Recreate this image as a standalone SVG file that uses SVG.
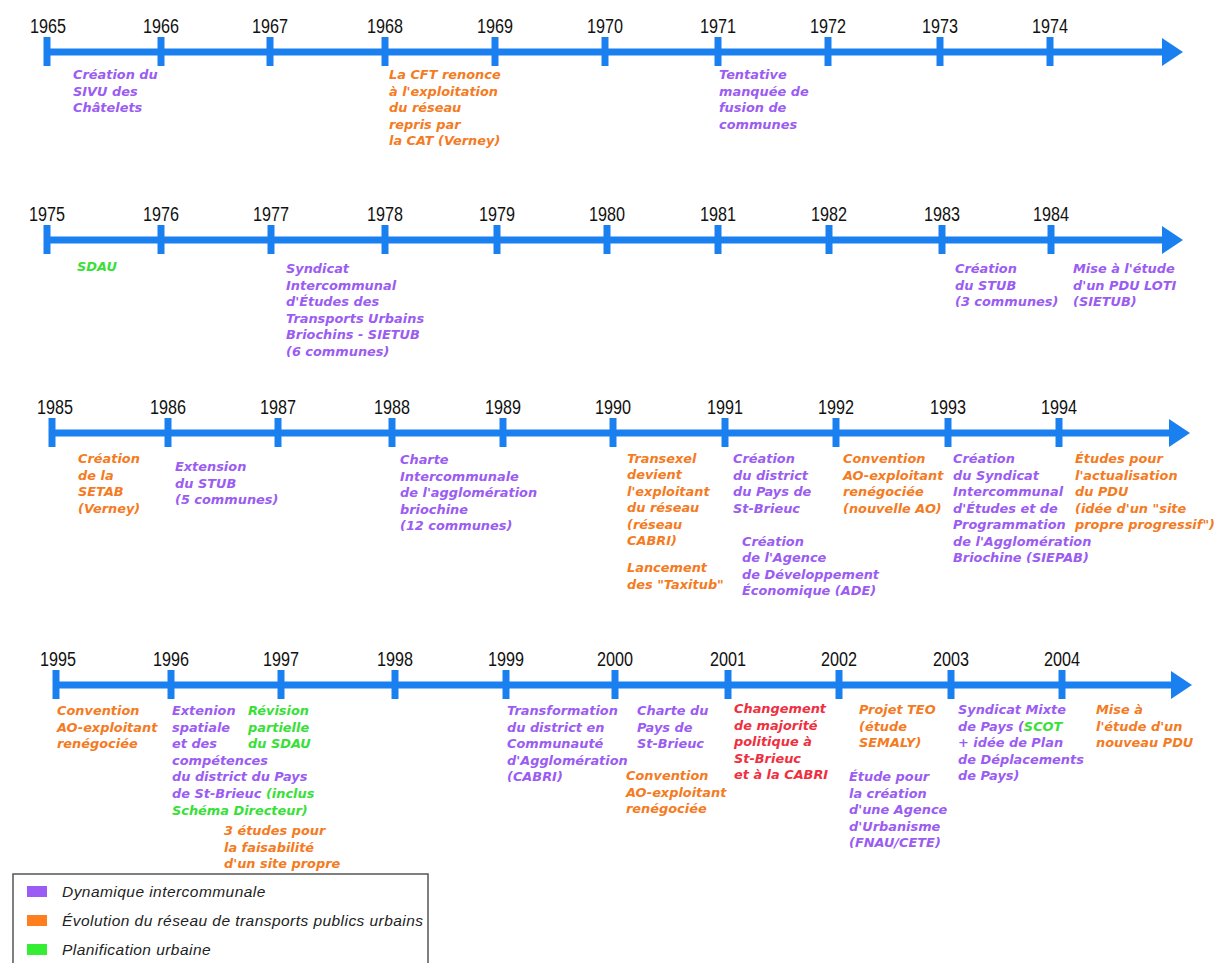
<svg xmlns="http://www.w3.org/2000/svg" width="1220" height="963" viewBox="0 0 1220 963">
<style>
.ax{stroke:#1a80f0;stroke-width:7;fill:none}
.tk{stroke:#1a80f0;stroke-width:7}
.ah{fill:#1a80f0}
.yr{font-family:"Liberation Sans",Arial,sans-serif;font-size:20px;fill:#111;text-anchor:middle}
.t{font-family:"DejaVu Sans",Verdana,sans-serif;font-size:12.9px;font-weight:bold;font-style:italic}
.p{fill:#9b5cf2}
.o{fill:#f47b1f}
.g{fill:#38e038}
.r{fill:#ee3040}
.lg{font-family:"Liberation Sans",Arial,sans-serif;font-size:15.5px;font-style:italic;fill:#222;letter-spacing:0.45px}
</style>
<rect width="1220" height="963" fill="#fff"/>
<g id="connectors">
<g id="axis1965">
<line class="ax" x1="47" y1="52" x2="1165" y2="52"/><polygon class="ah" points="1162,38 1183,52 1162,66"/>
<line class="tk" x1="47" y1="37" x2="47" y2="66"/><line class="tk" x1="161" y1="37" x2="161" y2="66"/><line class="tk" x1="270" y1="37" x2="270" y2="66"/><line class="tk" x1="385" y1="37" x2="385" y2="66"/><line class="tk" x1="495" y1="37" x2="495" y2="66"/><line class="tk" x1="605" y1="37" x2="605" y2="66"/><line class="tk" x1="718" y1="37" x2="718" y2="66"/><line class="tk" x1="828" y1="37" x2="828" y2="66"/><line class="tk" x1="940" y1="37" x2="940" y2="66"/><line class="tk" x1="1050" y1="37" x2="1050" y2="66"/>
</g>
<g id="axis1975">
<line class="ax" x1="47" y1="240" x2="1165" y2="240"/><polygon class="ah" points="1162,226 1183,240 1162,254"/>
<line class="tk" x1="47" y1="225" x2="47" y2="254"/><line class="tk" x1="161" y1="225" x2="161" y2="254"/><line class="tk" x1="271" y1="225" x2="271" y2="254"/><line class="tk" x1="385" y1="225" x2="385" y2="254"/><line class="tk" x1="497" y1="225" x2="497" y2="254"/><line class="tk" x1="607" y1="225" x2="607" y2="254"/><line class="tk" x1="718" y1="225" x2="718" y2="254"/><line class="tk" x1="829" y1="225" x2="829" y2="254"/><line class="tk" x1="942" y1="225" x2="942" y2="254"/><line class="tk" x1="1051" y1="225" x2="1051" y2="254"/>
</g>
<g id="axis1985">
<line class="ax" x1="52" y1="433" x2="1172" y2="433"/><polygon class="ah" points="1169,419 1190,433 1169,447"/>
<line class="tk" x1="52" y1="418" x2="52" y2="447"/><line class="tk" x1="168" y1="418" x2="168" y2="447"/><line class="tk" x1="278" y1="418" x2="278" y2="447"/><line class="tk" x1="392" y1="418" x2="392" y2="447"/><line class="tk" x1="503" y1="418" x2="503" y2="447"/><line class="tk" x1="613" y1="418" x2="613" y2="447"/><line class="tk" x1="725" y1="418" x2="725" y2="447"/><line class="tk" x1="836" y1="418" x2="836" y2="447"/><line class="tk" x1="948" y1="418" x2="948" y2="447"/><line class="tk" x1="1059" y1="418" x2="1059" y2="447"/>
</g>
<g id="axis1995">
<line class="ax" x1="56" y1="685" x2="1174" y2="685"/><polygon class="ah" points="1171,671 1192,685 1171,699"/>
<line class="tk" x1="56" y1="670" x2="56" y2="699"/><line class="tk" x1="171" y1="670" x2="171" y2="699"/><line class="tk" x1="281" y1="670" x2="281" y2="699"/><line class="tk" x1="395" y1="670" x2="395" y2="699"/><line class="tk" x1="506" y1="670" x2="506" y2="699"/><line class="tk" x1="615" y1="670" x2="615" y2="699"/><line class="tk" x1="728" y1="670" x2="728" y2="699"/><line class="tk" x1="839" y1="670" x2="839" y2="699"/><line class="tk" x1="951" y1="670" x2="951" y2="699"/><line class="tk" x1="1062" y1="670" x2="1062" y2="699"/>
</g>
</g>
<g id="years">
<text class="yr" x="48" y="33" textLength="36" lengthAdjust="spacingAndGlyphs">1965</text>
<text class="yr" x="161" y="33" textLength="36" lengthAdjust="spacingAndGlyphs">1966</text>
<text class="yr" x="270" y="33" textLength="36" lengthAdjust="spacingAndGlyphs">1967</text>
<text class="yr" x="385" y="33" textLength="36" lengthAdjust="spacingAndGlyphs">1968</text>
<text class="yr" x="495" y="33" textLength="36" lengthAdjust="spacingAndGlyphs">1969</text>
<text class="yr" x="605" y="33" textLength="36" lengthAdjust="spacingAndGlyphs">1970</text>
<text class="yr" x="718" y="33" textLength="36" lengthAdjust="spacingAndGlyphs">1971</text>
<text class="yr" x="828" y="33" textLength="36" lengthAdjust="spacingAndGlyphs">1972</text>
<text class="yr" x="940" y="33" textLength="36" lengthAdjust="spacingAndGlyphs">1973</text>
<text class="yr" x="1050" y="33" textLength="36" lengthAdjust="spacingAndGlyphs">1974</text>
<text class="yr" x="47" y="221" textLength="36" lengthAdjust="spacingAndGlyphs">1975</text>
<text class="yr" x="161" y="221" textLength="36" lengthAdjust="spacingAndGlyphs">1976</text>
<text class="yr" x="271" y="221" textLength="36" lengthAdjust="spacingAndGlyphs">1977</text>
<text class="yr" x="385" y="221" textLength="36" lengthAdjust="spacingAndGlyphs">1978</text>
<text class="yr" x="497" y="221" textLength="36" lengthAdjust="spacingAndGlyphs">1979</text>
<text class="yr" x="607" y="221" textLength="36" lengthAdjust="spacingAndGlyphs">1980</text>
<text class="yr" x="718" y="221" textLength="36" lengthAdjust="spacingAndGlyphs">1981</text>
<text class="yr" x="829" y="221" textLength="36" lengthAdjust="spacingAndGlyphs">1982</text>
<text class="yr" x="942" y="221" textLength="36" lengthAdjust="spacingAndGlyphs">1983</text>
<text class="yr" x="1051" y="221" textLength="36" lengthAdjust="spacingAndGlyphs">1984</text>
<text class="yr" x="55" y="414" textLength="36" lengthAdjust="spacingAndGlyphs">1985</text>
<text class="yr" x="168" y="414" textLength="36" lengthAdjust="spacingAndGlyphs">1986</text>
<text class="yr" x="278" y="414" textLength="36" lengthAdjust="spacingAndGlyphs">1987</text>
<text class="yr" x="392" y="414" textLength="36" lengthAdjust="spacingAndGlyphs">1988</text>
<text class="yr" x="503" y="414" textLength="36" lengthAdjust="spacingAndGlyphs">1989</text>
<text class="yr" x="613" y="414" textLength="36" lengthAdjust="spacingAndGlyphs">1990</text>
<text class="yr" x="725" y="414" textLength="36" lengthAdjust="spacingAndGlyphs">1991</text>
<text class="yr" x="836" y="414" textLength="36" lengthAdjust="spacingAndGlyphs">1992</text>
<text class="yr" x="948" y="414" textLength="36" lengthAdjust="spacingAndGlyphs">1993</text>
<text class="yr" x="1059" y="414" textLength="36" lengthAdjust="spacingAndGlyphs">1994</text>
<text class="yr" x="58" y="666" textLength="36" lengthAdjust="spacingAndGlyphs">1995</text>
<text class="yr" x="171" y="666" textLength="36" lengthAdjust="spacingAndGlyphs">1996</text>
<text class="yr" x="281" y="666" textLength="36" lengthAdjust="spacingAndGlyphs">1997</text>
<text class="yr" x="395" y="666" textLength="36" lengthAdjust="spacingAndGlyphs">1998</text>
<text class="yr" x="506" y="666" textLength="36" lengthAdjust="spacingAndGlyphs">1999</text>
<text class="yr" x="615" y="666" textLength="36" lengthAdjust="spacingAndGlyphs">2000</text>
<text class="yr" x="728" y="666" textLength="36" lengthAdjust="spacingAndGlyphs">2001</text>
<text class="yr" x="839" y="666" textLength="36" lengthAdjust="spacingAndGlyphs">2002</text>
<text class="yr" x="951" y="666" textLength="36" lengthAdjust="spacingAndGlyphs">2003</text>
<text class="yr" x="1062" y="666" textLength="36" lengthAdjust="spacingAndGlyphs">2004</text>
</g>
<g id="ev1966"><text class="t p" y="79"><tspan x="73">Création du</tspan><tspan x="73" dy="16.5">SIVU des</tspan><tspan x="73" dy="16.5">Châtelets</tspan></text></g>
<g id="ev1968"><text class="t o" y="79"><tspan x="389">La CFT renonce</tspan><tspan x="389" dy="16.5">à l'exploitation</tspan><tspan x="389" dy="16.5">du réseau</tspan><tspan x="389" dy="16.5">repris par</tspan><tspan x="389" dy="16.5">la CAT (Verney)</tspan></text></g>
<g id="ev1971"><text class="t p" y="79"><tspan x="719">Tentative</tspan><tspan x="719" dy="16.5">manquée de</tspan><tspan x="719" dy="16.5">fusion de</tspan><tspan x="719" dy="16.5">communes</tspan></text></g>
<g id="ev1975"><text class="t g" x="77" y="271">SDAU</text></g>
<g id="ev1977"><text class="t p" y="273"><tspan x="286">Syndicat</tspan><tspan x="286" dy="16.6">Intercommunal</tspan><tspan x="286" dy="16.6">d'Études des</tspan><tspan x="286" dy="16.6">Transports Urbains</tspan><tspan x="286" dy="16.6">Briochins - SIETUB</tspan><tspan x="286" dy="16.6">(6 communes)</tspan></text></g>
<g id="ev1983"><text class="t p" y="273"><tspan x="955">Création</tspan><tspan x="955" dy="16.6">du STUB</tspan><tspan x="955" dy="16.6">(3 communes)</tspan></text></g>
<g id="ev1984"><text class="t p" y="273"><tspan x="1073">Mise à l'étude</tspan><tspan x="1073" dy="16.6">d'un PDU LOTI</tspan><tspan x="1073" dy="16.6">(SIETUB)</tspan></text></g>
<g id="ev1985"><text class="t o" y="463"><tspan x="78">Création</tspan><tspan x="78" dy="16.5">de la</tspan><tspan x="78" dy="16.5">SETAB</tspan><tspan x="78" dy="16.5">(Verney)</tspan></text></g>
<g id="ev1986"><text class="t p" y="471"><tspan x="175">Extension</tspan><tspan x="175" dy="16.5">du STUB</tspan><tspan x="175" dy="16.5">(5 communes)</tspan></text></g>
<g id="ev1988"><text class="t p" y="464"><tspan x="400">Charte</tspan><tspan x="400" dy="16.5">Intercommunale</tspan><tspan x="400" dy="16.5">de l'agglomération</tspan><tspan x="400" dy="16.5">briochine</tspan><tspan x="400" dy="16.5">(12 communes)</tspan></text></g>
<g id="ev1990"><text class="t o" y="463"><tspan x="627">Transexel</tspan><tspan x="627" dy="16.4">devient</tspan><tspan x="627" dy="16.4">l'exploitant</tspan><tspan x="627" dy="16.4">du réseau</tspan><tspan x="627" dy="16.4">(réseau</tspan><tspan x="627" dy="16.4">CABRI)</tspan><tspan x="627" dy="27">Lancement</tspan><tspan x="627" dy="16.5">des "Taxitub"</tspan></text></g>
<g id="ev1991"><text class="t p" y="463"><tspan x="733">Création</tspan><tspan x="733" dy="16.5">du district</tspan><tspan x="733" dy="16.5">du Pays de</tspan><tspan x="733" dy="16.5">St-Brieuc</tspan><tspan x="742" dy="33">Création</tspan><tspan x="742" dy="16.5">de l'Agence</tspan><tspan x="742" dy="16.5">de Développement</tspan><tspan x="742" dy="16.5">Économique (ADE)</tspan></text></g>
<g id="ev1992"><text class="t o" y="463"><tspan x="843">Convention</tspan><tspan x="843" dy="16.5">AO-exploitant</tspan><tspan x="843" dy="16.5">renégociée</tspan><tspan x="843" dy="16.5">(nouvelle AO)</tspan></text></g>
<g id="ev1993"><text class="t p" y="463"><tspan x="953">Création</tspan><tspan x="953" dy="16.5">du Syndicat</tspan><tspan x="953" dy="16.5">Intercommunal</tspan><tspan x="953" dy="16.5">d'Études et de</tspan><tspan x="953" dy="16.5">Programmation</tspan><tspan x="953" dy="16.5">de l'Agglomération</tspan><tspan x="953" dy="16.5">Briochine (SIEPAB)</tspan></text></g>
<g id="ev1994"><text class="t o" y="463"><tspan x="1075">Études pour</tspan><tspan x="1075" dy="16.5">l'actualisation</tspan><tspan x="1075" dy="16.5">du PDU</tspan><tspan x="1075" dy="16.5">(idée d'un "site</tspan><tspan x="1075" dy="16.5">propre progressif")</tspan></text></g>
<g id="ev1995"><text class="t o" y="715"><tspan x="57">Convention</tspan><tspan x="57" dy="16.6">AO-exploitant</tspan><tspan x="57" dy="16.6">renégociée</tspan></text></g>
<g id="ev1996"><text class="t p" y="715"><tspan x="172">Extenion</tspan><tspan x="172" dy="16.6">spatiale</tspan><tspan x="172" dy="16.6">et des</tspan><tspan x="172" dy="16.6">compétences</tspan><tspan x="172" dy="16.6">du district du Pays</tspan><tspan x="172" dy="16.6">de St-Brieuc <tspan class="g">(inclus</tspan></tspan><tspan x="172" dy="16.6" class="g">Schéma Directeur)</tspan></text></g>
<g id="ev1997a"><text class="t g" y="715"><tspan x="248">Révision</tspan><tspan x="248" dy="16.6">partielle</tspan><tspan x="248" dy="16.6">du SDAU</tspan></text></g>
<g id="ev1997b"><text class="t o" y="835"><tspan x="224">3 études pour</tspan><tspan x="224" dy="16.5">la faisabilité</tspan><tspan x="224" dy="16.5">d'un site propre</tspan></text></g>
<g id="ev1999"><text class="t p" y="715"><tspan x="507">Transformation</tspan><tspan x="507" dy="16.6">du district en</tspan><tspan x="507" dy="16.6">Communauté</tspan><tspan x="507" dy="16.6">d'Agglomération</tspan><tspan x="507" dy="16.6">(CABRI)</tspan></text></g>
<g id="ev2000a"><text class="t p" y="715"><tspan x="637">Charte du</tspan><tspan x="637" dy="16.6">Pays de</tspan><tspan x="637" dy="16.6">St-Brieuc</tspan></text></g>
<g id="ev2000b"><text class="t o" y="780"><tspan x="626">Convention</tspan><tspan x="626" dy="16.5">AO-exploitant</tspan><tspan x="626" dy="16.5">renégociée</tspan></text></g>
<g id="ev2001"><text class="t r" y="713"><tspan x="734">Changement</tspan><tspan x="734" dy="16.5">de majorité</tspan><tspan x="734" dy="16.5">politique à</tspan><tspan x="734" dy="16.5">St-Brieuc</tspan><tspan x="734" dy="16.5">et à la CABRI</tspan></text></g>
<g id="ev2002a"><text class="t o" y="714"><tspan x="859">Projet TEO</tspan><tspan x="859" dy="16.5">(étude</tspan><tspan x="859" dy="16.5">SEMALY)</tspan></text></g>
<g id="ev2002b"><text class="t p" y="781"><tspan x="849">Étude pour</tspan><tspan x="849" dy="16.5">la création</tspan><tspan x="849" dy="16.5">d'une Agence</tspan><tspan x="849" dy="16.5">d'Urbanisme</tspan><tspan x="849" dy="16.5">(FNAU/CETE)</tspan></text></g>
<g id="ev2003"><text class="t p" y="714"><tspan x="958">Syndicat Mixte</tspan><tspan x="958" dy="16.5">de Pays (<tspan class="g">SCOT</tspan></tspan><tspan x="958" dy="16.5">+ idée de Plan</tspan><tspan x="958" dy="16.5">de Déplacements</tspan><tspan x="958" dy="16.5">de Pays)</tspan></text></g>
<g id="ev2004"><text class="t o" y="714"><tspan x="1096">Mise à</tspan><tspan x="1096" dy="16.5">l'étude d'un</tspan><tspan x="1096" dy="16.5">nouveau PDU</tspan></text></g>
<g id="legend">
<rect x="13" y="874" width="415" height="100" fill="#fff" stroke="#555" stroke-width="1.5"/>
<rect x="27" y="886" width="20" height="11" fill="#9b5cf6"/>
<rect x="27" y="915" width="20" height="11" fill="#ff7f1e"/>
<rect x="27" y="944" width="20" height="11" fill="#33ee33"/>
<text class="lg" x="62" y="897">Dynamique intercommunale</text>
<text class="lg" x="62" y="926">Évolution du réseau de transports publics urbains</text>
<text class="lg" x="62" y="955">Planification urbaine</text>
</g>
</svg>
